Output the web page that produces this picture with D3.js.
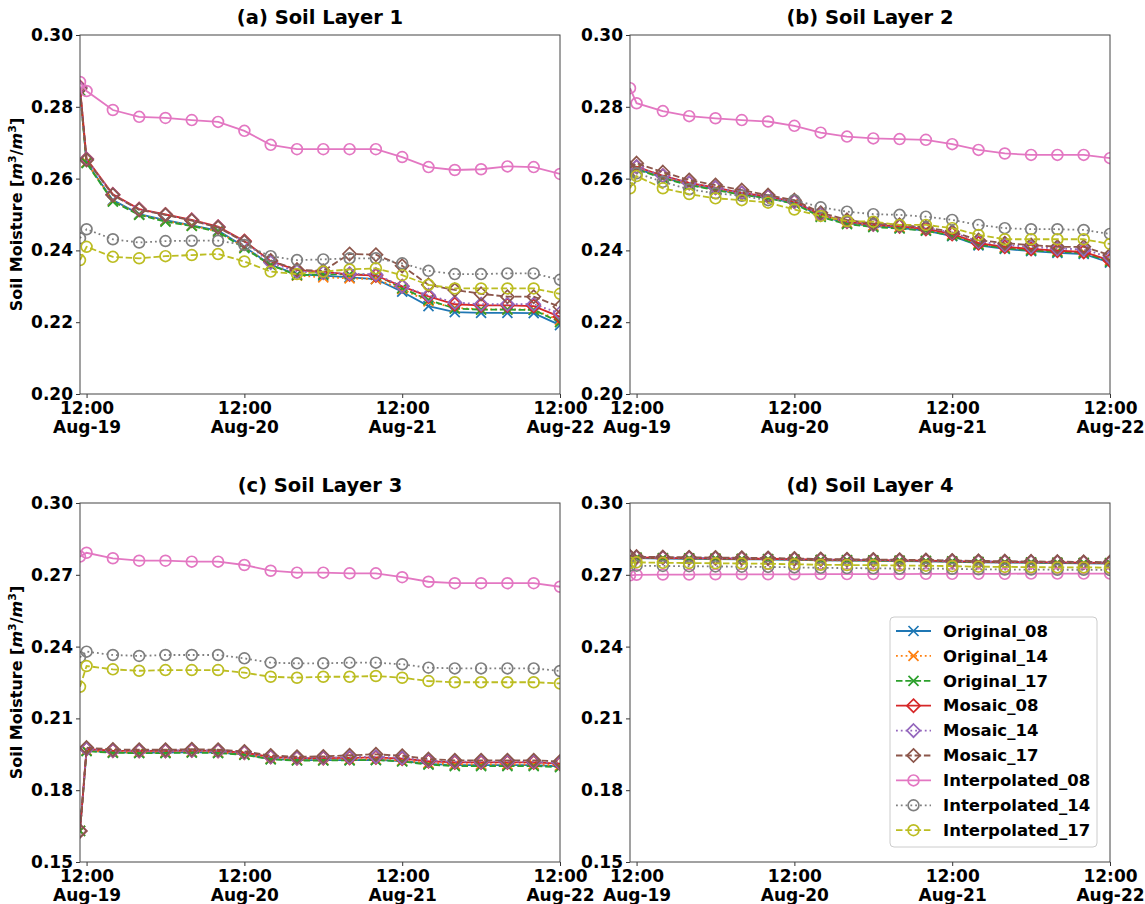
<!DOCTYPE html>
<html>
<head>
<meta charset="utf-8">
<script src="https://cdn.jsdelivr.net/npm/d3@7"></script>
<style>
  body { margin: 0; background: #fff; }
  text { font-family: "DejaVu Sans", sans-serif; font-weight: bold; fill: #000; }
</style>
</head>
<body>
<div id="chart"></div>
<script>
// time stamps (first sample at 11:00, then every 4 hours)
var times = [
  "2019-08-19 11:00", "2019-08-19 12:00", "2019-08-19 16:00", "2019-08-19 20:00",
  "2019-08-20 00:00", "2019-08-20 04:00", "2019-08-20 08:00", "2019-08-20 12:00",
  "2019-08-20 16:00", "2019-08-20 20:00", "2019-08-21 00:00", "2019-08-21 04:00",
  "2019-08-21 08:00", "2019-08-21 12:00", "2019-08-21 16:00", "2019-08-21 20:00",
  "2019-08-22 00:00", "2019-08-22 04:00", "2019-08-22 08:00", "2019-08-22 12:00"
];
var xTickTimes = ["2019-08-19 12:00", "2019-08-20 12:00", "2019-08-21 12:00", "2019-08-22 12:00"];

var seriesNames = ["Original_08", "Original_14", "Original_17",
                   "Mosaic_08", "Mosaic_14", "Mosaic_17",
                   "Interpolated_08", "Interpolated_14", "Interpolated_17"];
var seriesColors = ["#1f77b4", "#ff7f0e", "#2ca02c", "#d62728", "#9467bd", "#8c564b",
                    "#e377c2", "#7f7f7f", "#bcbd22"];
var seriesDash = ["", "1.8,3", "6.5,2.8", "", "1.8,3", "6.5,2.8", "", "1.8,3", "6.5,2.8"];
var seriesMarker = ["x", "x", "x", "D", "D", "D", "o", "o", "o"];

var yTicksTop = [0.20, 0.22, 0.24, 0.26, 0.28, 0.30];
var yTicksBottom = [0.15, 0.18, 0.21, 0.24, 0.27, 0.30];

// soil layer 1, one row per series (same order as seriesNames)
var layer1 = [
  [0.2845, 0.2645, 0.2540, 0.2501, 0.2484, 0.2470, 0.2455, 0.2410, 0.2360, 0.2333, 0.2330, 0.2325, 0.2320, 0.2285, 0.2245, 0.2228, 0.2226, 0.2226, 0.2225, 0.2192],
  [0.2845, 0.2645, 0.2538, 0.2500, 0.2482, 0.2469, 0.2453, 0.2408, 0.2360, 0.2330, 0.2325, 0.2322, 0.2320, 0.2292, 0.2258, 0.2240, 0.2236, 0.2236, 0.2235, 0.2205],
  [0.2845, 0.2643, 0.2536, 0.2499, 0.2480, 0.2468, 0.2452, 0.2406, 0.2359, 0.2331, 0.2333, 0.2333, 0.2332, 0.2295, 0.2262, 0.2238, 0.2235, 0.2235, 0.2234, 0.2200],
  [0.2855, 0.2655, 0.2556, 0.2515, 0.2500, 0.2485, 0.2466, 0.2426, 0.2370, 0.2345, 0.2340, 0.2333, 0.2330, 0.2300, 0.2272, 0.2250, 0.2247, 0.2247, 0.2245, 0.2215],
  [0.2853, 0.2654, 0.2555, 0.2514, 0.2499, 0.2484, 0.2465, 0.2424, 0.2366, 0.2341, 0.2338, 0.2335, 0.2333, 0.2300, 0.2275, 0.2255, 0.2250, 0.2250, 0.2250, 0.2225],
  [0.2850, 0.2652, 0.2554, 0.2513, 0.2499, 0.2483, 0.2464, 0.2424, 0.2372, 0.2346, 0.2343, 0.2390, 0.2388, 0.2357, 0.2304, 0.2290, 0.2279, 0.2271, 0.2271, 0.2243],
  [0.2869, 0.2844, 0.2791, 0.2772, 0.2769, 0.2763, 0.2758, 0.2733, 0.2694, 0.2682, 0.2682, 0.2682, 0.2682, 0.2660, 0.2632, 0.2624, 0.2626, 0.2634, 0.2632, 0.2613],
  [0.2434, 0.2459, 0.2431, 0.2422, 0.2426, 0.2427, 0.2427, 0.2415, 0.2384, 0.2373, 0.2375, 0.2378, 0.2378, 0.2364, 0.2343, 0.2334, 0.2334, 0.2336, 0.2336, 0.2318],
  [0.2373, 0.2410, 0.2382, 0.2378, 0.2384, 0.2387, 0.2390, 0.2369, 0.2341, 0.2334, 0.2341, 0.2347, 0.2350, 0.2331, 0.2304, 0.2294, 0.2294, 0.2294, 0.2294, 0.2279]
];

var layer2 = [
  [0.2620, 0.2628, 0.2603, 0.2583, 0.2570, 0.2556, 0.2546, 0.2532, 0.2496, 0.2476, 0.2468, 0.2463, 0.2455, 0.2440, 0.2414, 0.2404, 0.2398, 0.2393, 0.2390, 0.2366],
  [0.2620, 0.2628, 0.2603, 0.2584, 0.2571, 0.2557, 0.2547, 0.2533, 0.2497, 0.2477, 0.2469, 0.2465, 0.2458, 0.2444, 0.2419, 0.2409, 0.2403, 0.2399, 0.2396, 0.2372],
  [0.2618, 0.2626, 0.2601, 0.2582, 0.2568, 0.2555, 0.2545, 0.2530, 0.2493, 0.2473, 0.2465, 0.2461, 0.2455, 0.2441, 0.2416, 0.2406, 0.2400, 0.2396, 0.2393, 0.2369],
  [0.2625, 0.2633, 0.2608, 0.2588, 0.2575, 0.2560, 0.2550, 0.2536, 0.2500, 0.2480, 0.2472, 0.2467, 0.2460, 0.2446, 0.2420, 0.2410, 0.2404, 0.2399, 0.2396, 0.2372],
  [0.2625, 0.2633, 0.2608, 0.2588, 0.2575, 0.2560, 0.2550, 0.2536, 0.2500, 0.2481, 0.2473, 0.2469, 0.2463, 0.2450, 0.2425, 0.2415, 0.2410, 0.2405, 0.2403, 0.2380],
  [0.2630, 0.2643, 0.2618, 0.2596, 0.2582, 0.2568, 0.2554, 0.2540, 0.2505, 0.2485, 0.2475, 0.2471, 0.2464, 0.2452, 0.2429, 0.2420, 0.2415, 0.2410, 0.2410, 0.2387],
  [0.2852, 0.2810, 0.2788, 0.2774, 0.2768, 0.2763, 0.2759, 0.2747, 0.2728, 0.2717, 0.2712, 0.2710, 0.2708, 0.2696, 0.2680, 0.2670, 0.2666, 0.2666, 0.2666, 0.2657],
  [0.2595, 0.2615, 0.2591, 0.2570, 0.2559, 0.2552, 0.2540, 0.2540, 0.2520, 0.2508, 0.2501, 0.2499, 0.2494, 0.2485, 0.2471, 0.2462, 0.2459, 0.2459, 0.2457, 0.2446],
  [0.2573, 0.2607, 0.2573, 0.2557, 0.2545, 0.2540, 0.2533, 0.2514, 0.2496, 0.2482, 0.2480, 0.2471, 0.2471, 0.2462, 0.2443, 0.2431, 0.2431, 0.2431, 0.2431, 0.2418]
];

var layer3 = [
  [0.1630, 0.1965, 0.1958, 0.1957, 0.1957, 0.1959, 0.1957, 0.1950, 0.1931, 0.1926, 0.1926, 0.1926, 0.1927, 0.1922, 0.1910, 0.1905, 0.1905, 0.1905, 0.1905, 0.1900],
  [0.1630, 0.1966, 0.1959, 0.1958, 0.1958, 0.1960, 0.1958, 0.1951, 0.1932, 0.1927, 0.1927, 0.1928, 0.1929, 0.1924, 0.1913, 0.1908, 0.1908, 0.1908, 0.1908, 0.1903],
  [0.1630, 0.1963, 0.1956, 0.1955, 0.1955, 0.1957, 0.1955, 0.1948, 0.1929, 0.1924, 0.1924, 0.1925, 0.1926, 0.1920, 0.1907, 0.1901, 0.1901, 0.1901, 0.1901, 0.1896],
  [0.1630, 0.1972, 0.1965, 0.1964, 0.1964, 0.1966, 0.1964, 0.1957, 0.1939, 0.1934, 0.1934, 0.1935, 0.1937, 0.1932, 0.1921, 0.1916, 0.1916, 0.1916, 0.1916, 0.1911],
  [0.1630, 0.1972, 0.1966, 0.1965, 0.1965, 0.1967, 0.1965, 0.1958, 0.1940, 0.1935, 0.1936, 0.1938, 0.1940, 0.1935, 0.1924, 0.1919, 0.1919, 0.1919, 0.1919, 0.1914],
  [0.1630, 0.1978, 0.1970, 0.1969, 0.1969, 0.1971, 0.1969, 0.1962, 0.1945, 0.1940, 0.1941, 0.1946, 0.1950, 0.1944, 0.1930, 0.1925, 0.1925, 0.1925, 0.1925, 0.1920],
  [0.2776, 0.2792, 0.2769, 0.2759, 0.2759, 0.2755, 0.2755, 0.2741, 0.2717, 0.2709, 0.2709, 0.2706, 0.2706, 0.2690, 0.2671, 0.2665, 0.2665, 0.2665, 0.2665, 0.2650],
  [0.2355, 0.2379, 0.2365, 0.2361, 0.2365, 0.2365, 0.2365, 0.2351, 0.2333, 0.2330, 0.2330, 0.2333, 0.2333, 0.2326, 0.2312, 0.2309, 0.2309, 0.2309, 0.2309, 0.2298],
  [0.2232, 0.2319, 0.2305, 0.2299, 0.2302, 0.2302, 0.2302, 0.2291, 0.2274, 0.2270, 0.2274, 0.2274, 0.2277, 0.2270, 0.2256, 0.2251, 0.2251, 0.2251, 0.2251, 0.2246]
];

var layer4 = [
  [0.2772, 0.2770, 0.2768, 0.2767, 0.2766, 0.2765, 0.2764, 0.2762, 0.2760, 0.2759, 0.2758, 0.2757, 0.2756, 0.2754, 0.2752, 0.2751, 0.2750, 0.2749, 0.2748, 0.2747],
  [0.2773, 0.2771, 0.2769, 0.2768, 0.2767, 0.2766, 0.2765, 0.2763, 0.2761, 0.2760, 0.2759, 0.2758, 0.2757, 0.2755, 0.2753, 0.2752, 0.2751, 0.2750, 0.2749, 0.2748],
  [0.2774, 0.2772, 0.2770, 0.2769, 0.2768, 0.2767, 0.2766, 0.2764, 0.2762, 0.2761, 0.2760, 0.2759, 0.2758, 0.2756, 0.2754, 0.2753, 0.2752, 0.2751, 0.2750, 0.2749],
  [0.2774, 0.2773, 0.2771, 0.2770, 0.2769, 0.2768, 0.2767, 0.2765, 0.2763, 0.2762, 0.2761, 0.2760, 0.2759, 0.2757, 0.2755, 0.2754, 0.2753, 0.2752, 0.2751, 0.2750],
  [0.2775, 0.2774, 0.2772, 0.2771, 0.2770, 0.2769, 0.2768, 0.2766, 0.2764, 0.2763, 0.2762, 0.2761, 0.2760, 0.2758, 0.2756, 0.2755, 0.2754, 0.2753, 0.2752, 0.2751],
  [0.2777, 0.2776, 0.2774, 0.2773, 0.2772, 0.2771, 0.2770, 0.2768, 0.2766, 0.2765, 0.2764, 0.2763, 0.2762, 0.2760, 0.2758, 0.2757, 0.2756, 0.2755, 0.2754, 0.2753],
  [0.2698, 0.2700, 0.2701, 0.2701, 0.2702, 0.2702, 0.2702, 0.2702, 0.2703, 0.2703, 0.2703, 0.2703, 0.2704, 0.2704, 0.2704, 0.2704, 0.2705, 0.2705, 0.2705, 0.2705],
  [0.2738, 0.2738, 0.2737, 0.2736, 0.2735, 0.2734, 0.2733, 0.2731, 0.2729, 0.2728, 0.2727, 0.2726, 0.2726, 0.2725, 0.2723, 0.2722, 0.2722, 0.2721, 0.2721, 0.2720],
  [0.2750, 0.2752, 0.2750, 0.2749, 0.2748, 0.2747, 0.2746, 0.2744, 0.2742, 0.2741, 0.2740, 0.2739, 0.2738, 0.2736, 0.2734, 0.2733, 0.2732, 0.2731, 0.2731, 0.2730]
];

var parseTime = d3.timeParse("%Y-%m-%d %H:%M");
var dates = times.map(parseTime);
var tickDates = xTickTimes.map(parseTime);

var svg = d3.select("#chart")
  .append("svg")
  .attr("width", 1145)
  .attr("height", 904);

var panels = [
  {data: layer1, title: "(a) Soil Layer 1", left: 80, top: 35, yDomain: [0.20, 0.30], yTicks: yTicksTop, ylabel: true},
  {data: layer2, title: "(b) Soil Layer 2", left: 630, top: 35, yDomain: [0.20, 0.30], yTicks: yTicksTop},
  {data: layer3, title: "(c) Soil Layer 3", left: 80, top: 503, yDomain: [0.15, 0.30], yTicks: yTicksBottom, ylabel: true},
  {data: layer4, title: "(d) Soil Layer 4", left: 630, top: 503, yDomain: [0.15, 0.30], yTicks: yTicksBottom, legend: true}
];
var pw = 480, ph = 359;

function markerPath(type) {
  if (type == "x") return "M-5,-5L5,5M-5,5L5,-5";
  if (type == "D") return "M0,-6.6L6.6,0L0,6.6L-6.6,0Z";
  return null;
}

function addMarker(g, type, color) {
  if (type == "o") {
    g.append("circle").attr("r", 5.4)
      .attr("fill", "none").attr("stroke", color).attr("stroke-width", 1.7);
  } else {
    g.append("path").attr("d", markerPath(type))
      .attr("fill", "none").attr("stroke", color).attr("stroke-width", 1.7);
  }
}

panels.forEach(function(p, pi) {
  var g = svg.append("g").attr("transform", "translate(" + p.left + "," + p.top + ")");

  var x = d3.scaleTime().domain([dates[0], dates[dates.length - 1]]).range([0, pw]);
  var y = d3.scaleLinear().domain(p.yDomain).range([ph, 0]);

  g.append("clipPath").attr("id", "clip" + pi)
    .append("rect").attr("width", pw).attr("height", ph);

  // Y axis
  var yAxis = g.append("g")
    .call(d3.axisLeft(y).tickValues(p.yTicks).tickFormat(d3.format(".2f")).tickSize(4).tickPadding(3));
  yAxis.select(".domain").remove();
  yAxis.selectAll("text").style("font-size", "17px");
  yAxis.selectAll("line").attr("stroke", "#333");

  // X axis with two line labels
  var xAxis = g.append("g")
    .attr("transform", "translate(0," + ph + ")")
    .call(d3.axisBottom(x).tickValues(tickDates).tickSize(4).tickFormat(""));
  xAxis.select(".domain").remove();
  xAxis.selectAll("line").attr("stroke", "#333");
  xAxis.selectAll(".tick").append("text")
    .attr("text-anchor", "middle")
    .style("font-size", "17px")
    .each(function(d) {
      var t = d3.select(this);
      t.append("tspan").attr("x", 0).attr("y", 20).text(d3.timeFormat("%H:%M")(d));
      t.append("tspan").attr("x", 0).attr("y", 39).text(d3.timeFormat("%b-%d")(d));
    });

  // lines and markers
  var plot = g.append("g").attr("clip-path", "url(#clip" + pi + ")");
  var line = d3.line()
    .x(function(d, i) { return x(dates[i]); })
    .y(function(d) { return y(d); });

  p.data.forEach(function(vals, si) {
    var sg = plot.append("g");
    sg.append("path")
      .attr("d", line(vals))
      .attr("fill", "none")
      .attr("stroke", seriesColors[si])
      .attr("stroke-width", 1.8)
      .attr("stroke-dasharray", seriesDash[si] || null);
    sg.selectAll(".mk")
      .data(vals)
      .enter()
      .append("g")
      .attr("transform", function(d, i) { return "translate(" + x(dates[i]) + "," + y(d) + ")"; })
      .each(function() { addMarker(d3.select(this), seriesMarker[si], seriesColors[si]); });
  });

  // frame
  g.append("rect")
    .attr("width", pw).attr("height", ph)
    .attr("fill", "none").attr("stroke", "#444").attr("stroke-width", 1);

  // title
  g.append("text")
    .attr("x", pw / 2).attr("y", -11)
    .attr("text-anchor", "middle")
    .style("font-size", "19.5px")
    .text(p.title);

  if (p.ylabel) {
    var yl = g.append("text")
      .attr("transform", "translate(" + (-58) + "," + (ph / 2) + ")rotate(-90)")
      .attr("text-anchor", "middle")
      .style("font-size", "16px");
    yl.append("tspan").text("Soil Moisture [");
    yl.append("tspan").style("font-style", "italic").text("m");
    yl.append("tspan").attr("baseline-shift", "super").style("font-size", "11px").text("3");
    yl.append("tspan").text("/");
    yl.append("tspan").style("font-style", "italic").text("m");
    yl.append("tspan").attr("baseline-shift", "super").style("font-size", "11px").text("3");
    yl.append("tspan").text("]");
  }

  if (p.legend) {
    var lg = svg.append("g").attr("transform", "translate(890,617)");
    lg.append("rect")
      .attr("width", 207).attr("height", 230).attr("rx", 4)
      .attr("fill", "#fff").attr("fill-opacity", 0.8)
      .attr("stroke", "#ccc");
    seriesNames.forEach(function(name, si) {
      var row = lg.append("g").attr("transform", "translate(0," + (14 + si * 24.9) + ")");
      row.append("line")
        .attr("x1", 6).attr("x2", 41).attr("y1", 0).attr("y2", 0)
        .attr("stroke", seriesColors[si]).attr("stroke-width", 1.8)
        .attr("stroke-dasharray", seriesDash[si] || null);
      var m = row.append("g").attr("transform", "translate(23.5,0)");
      addMarker(m, seriesMarker[si], seriesColors[si]);
      row.append("text")
        .attr("x", 53).attr("y", 0).attr("dy", "0.35em")
        .style("font-size", "16.5px")
        .text(name);
    });
  }
});
</script>
</body>
</html>
